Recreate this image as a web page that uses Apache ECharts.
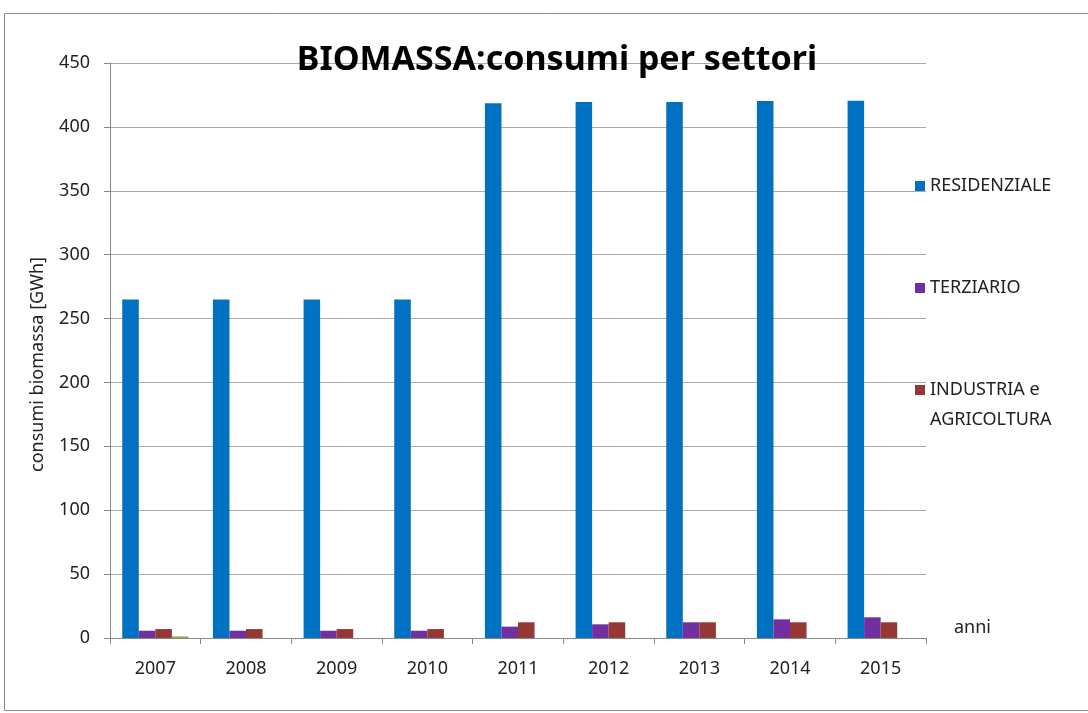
<!DOCTYPE html>
<html>
<head>
<meta charset="utf-8">
<script src="https://cdn.jsdelivr.net/npm/echarts@6/dist/echarts.min.js"></script>
<style>
  html, body { margin: 0; padding: 0; background: #fff; }
</style>
</head>
<body>
<div id="main" style="width: 1088px; height: 713px"></div>
<script>
// dati
const anni = ['2007', '2008', '2009', '2010', '2011', '2012', '2013', '2014', '2015']
const residenziale = [265, 265, 265, 265, 418.5, 419.5, 419.5, 420.3, 420.5]
const terziario = [5.7, 5.7, 5.7, 5.7, 8.9, 10.7, 12.3, 14.6, 16.2]
const industria = [7, 7, 7, 7, 12.3, 12.3, 12.3, 12.3, 12.3]
const altro = [1.3, 0, 0, 0, 0, 0, 0, 0, 0]
const yTicks = [0, 50, 100, 150, 200, 250, 300, 350, 400, 450]

const FONT = 'Noto Sans'
const myChart = echarts.init(document.getElementById('main'))

const legendBase = {
  orient: 'vertical',
  left: 910,
  itemWidth: 10,
  itemHeight: 10,
  itemGap: 8,
  icon: 'rect',
  textStyle: { fontFamily: FONT, fontSize: 18, color: '#222', lineHeight: 30 }
}

const option = {
  backgroundColor: '#fff',
  animation: false,
  title: {
    text: 'BIOMASSA:consumi per settori',
    left: 552,
    top: 38,
    textAlign: 'center',
    textStyle: { fontFamily: FONT, fontSize: 34, fontWeight: 'bold', color: '#000' }
  },
  legend: [
    Object.assign({}, legendBase, { top: 166, data: ['RESIDENZIALE'] }),
    Object.assign({}, legendBase, { top: 268, data: ['TERZIARIO'] }),
    Object.assign({}, legendBase, {
      top: 340,
      data: ['INDUSTRIA e\nAGRICOLTURA'],
      // riga vuota in testa: così il quadratino resta allineato alla prima riga
      formatter: function (name) { return ' \n' + name }
    })
  ],
  grid: { left: 110, right: 162, top: 63, bottom: 75 },
  xAxis: {
    type: 'category',
    data: anni,
    name: 'anni',
    nameLocation: 'end',
    nameGap: 28,
    nameTextStyle: { fontFamily: FONT, fontSize: 18, color: '#222', verticalAlign: 'bottom', lineHeight: 20 },
    axisLine: { lineStyle: { color: '#888', width: 1 } },
    axisTick: { show: true, length: 6, lineStyle: { color: '#888' } },
    axisLabel: { fontFamily: FONT, fontSize: 18, color: '#222', margin: 22 }
  },
  yAxis: {
    type: 'value',
    min: 0,
    max: 450,
    interval: 50,
    name: 'consumi biomassa [GWh]',
    nameLocation: 'middle',
    nameGap: 63,
    nameTextStyle: { fontFamily: FONT, fontSize: 18, color: '#222', padding: [0, 28, 0, 0] },
    axisLine: { show: true, lineStyle: { color: '#888', width: 1 } },
    axisTick: { show: true, length: 6, lineStyle: { color: '#888' } },
    axisLabel: {
      fontFamily: FONT, fontSize: 18, color: '#222', margin: 20,
      formatter: function (v) { return yTicks.indexOf(v) >= 0 ? String(v) : '' }
    },
    splitLine: { lineStyle: { color: '#aaa', width: 1 } }
  },
  series: [
    { name: 'RESIDENZIALE', type: 'bar', data: residenziale, barGap: '0%', barCategoryGap: '27%', itemStyle: { color: '#0070C0' } },
    { name: 'TERZIARIO', type: 'bar', data: terziario, barGap: '0%', itemStyle: { color: '#7030A0' } },
    { name: 'INDUSTRIA e\nAGRICOLTURA', type: 'bar', data: industria, barGap: '0%', itemStyle: { color: '#953735' } },
    { name: 'ALTRO', type: 'bar', data: altro, barGap: '0%', itemStyle: { color: '#8DB255' } }
  ],
  graphic: [
    {
      type: 'rect',
      shape: { x: 4.5, y: 13.5, width: 1100, height: 697 },
      style: { fill: 'none', stroke: '#8a8a8a', lineWidth: 1 },
      silent: true,
      z: -1
    }
  ]
}

myChart.setOption(option)
</script>
</body>
</html>
